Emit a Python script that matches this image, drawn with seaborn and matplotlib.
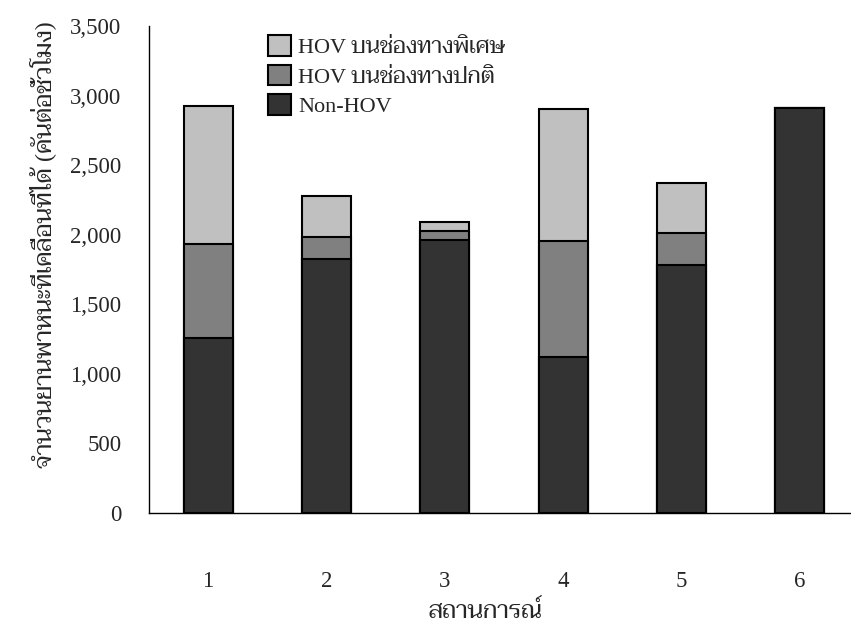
import matplotlib
matplotlib.use("Agg")
import matplotlib.pyplot as plt
from matplotlib.patches import Patch
from matplotlib import font_manager
import seaborn as sns
import numpy as np

# ---- data ----
scenarios = ["1", "2", "3", "4", "5", "6"]
non_hov = [1255, 1828, 1960, 1123, 1785, 2910]
hov_normal = [678, 156, 70, 834, 227, 0]
hov_special = [990, 294, 60, 949, 362, 0]
series_labels = ["HOV บนช่องทางพิเศษ", "HOV บนช่องทางปกติ", "Non-HOV"]
y_ticks = [0, 500, 1000, 1500, 2000, 2500, 3000, 3500]
x_label = "สถานการณ์"
y_label = "จำนวนยานพาหนะที่เคลื่อนที่ได้ (คันต่อชั่วโมง)"

sns.set_theme(style="white")

available = {f.name for f in font_manager.fontManager.ttflist}
thai_font = next((n for n in ["Taviraj", "Trirong", "Sarabun", "Pridi", "Maitree", "Noto Serif Thai",
                              "Noto Sans Thai"] if n in available), None)
family = ["Liberation Serif"] + ([thai_font] if thai_font else []) + ["DejaVu Sans"]
plt.rcParams['font.family'] = family

fig = plt.figure(figsize=(8.51, 6.26), dpi=100)
ax = fig.add_axes([149/851, (626-513)/626, (859-149)/851, (513-26)/626])

c_special = "#c0c0c0"
c_normal = "#808080"
c_non = "#333333"

lvl3 = np.array(non_hov) + np.array(hov_normal) + np.array(hov_special)
lvl2 = np.array(non_hov) + np.array(hov_normal)
lvl1 = np.array(non_hov)

for vals, col in [(lvl3, c_special), (lvl2, c_normal), (lvl1, c_non)]:
    sns.barplot(x=scenarios, y=vals, color=col, width=0.414, edgecolor="black",
                linewidth=1.5, saturation=1, ax=ax)

ax.set_ylim(0, 3500)
ax.set_xlim(-0.5, 5.5)
ax.set_yticks(y_ticks)
ax.set_yticklabels([f"{v:,}" for v in y_ticks])
ax.set_xticks(np.arange(-0.5, 5.6, 1.0), minor=False)
ax.set_xticklabels([])
ax.set_xticks(np.arange(0, 6), minor=True)
ax.set_xticklabels(scenarios, minor=True)
ax.tick_params(axis="x", which="major", direction="out", length=9, width=1, color="black")
ax.tick_params(axis="x", which="minor", length=0, pad=42, labelsize=16.5)
ax.tick_params(axis="y", direction="out", length=9, width=1, color="black", labelsize=16.5, pad=11)
for s in ["top", "right"]:
    ax.spines[s].set_visible(False)
for s in ["left", "bottom"]:
    ax.spines[s].set_color("black")
    ax.spines[s].set_linewidth(1)

ax.set_xlabel(x_label, fontsize=17.5)
ax.xaxis.set_label_coords((485-149)/710, -(612-513)/487, transform=ax.transAxes)
ax.xaxis.label.set_va("center")
ax.set_ylabel(y_label, fontsize=17.5)
ax.yaxis.set_label_coords((43-149)/710, (513-245)/487, transform=ax.transAxes)
ax.yaxis.label.set_va("center")

handles = [Patch(facecolor=c, edgecolor="black", linewidth=1.5) for c in [c_special, c_normal, c_non]]
ax.legend(handles, series_labels, loc="upper left", bbox_to_anchor=(257/851, 1-24/626),
          bbox_transform=fig.transFigure, frameon=False, fontsize=16,
          handlelength=1.05, handleheight=1.05, handletextpad=0.3, labelspacing=0.3, borderpad=0)

fig.savefig("out.png", dpi=100)
